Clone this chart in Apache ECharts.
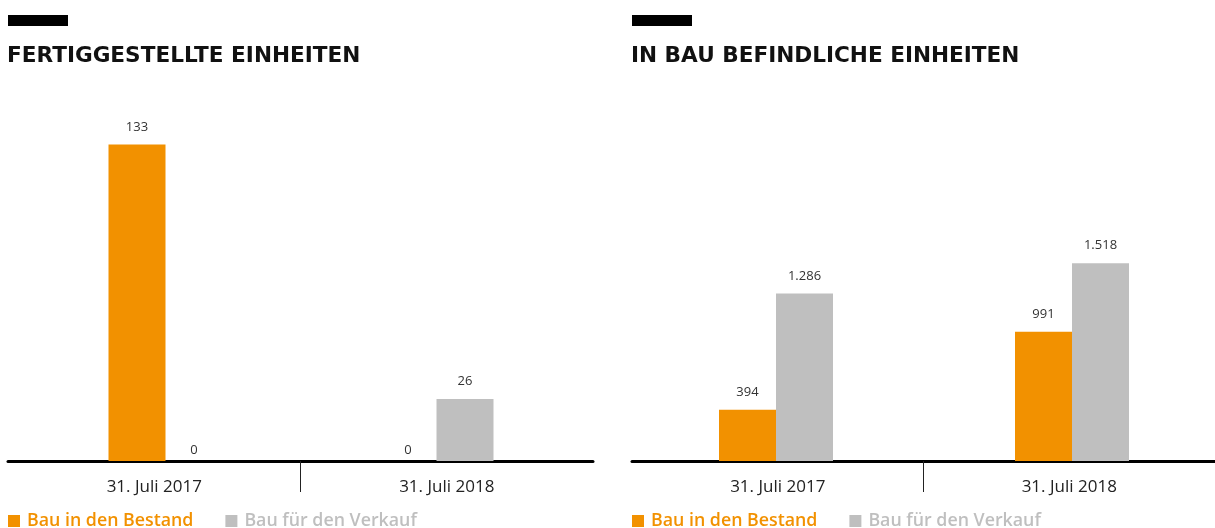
<!DOCTYPE html>
<html>
<head>
<meta charset="utf-8">
<script src="https://cdn.jsdelivr.net/npm/echarts@6/dist/echarts.min.js"></script>
<style>
  html, body { margin: 0; padding: 0; background: #fff; }
  #chart { width: 1215px; height: 528px; }
</style>
</head>
<body>
<div id="chart"></div>
<script>
// chart data
const categories = ['31. Juli 2017', '31. Juli 2018'];
const seriesNames = ['Bau in den Bestand', 'Bau für den Verkauf'];
const titles = ['FERTIGGESTELLTE EINHEITEN', 'IN BAU BEFINDLICHE EINHEITEN'];
const completedBestand = [133, 0];
const completedVerkauf = [0, 26];
const buildingBestand = [394, 991];
const buildingVerkauf = [1286, 1518];

const ORANGE = '#f29100';
const GREY = '#bfbfbf';
const FONT = '"Open Sans", sans-serif';

// German thousands separator
const fmt = (v) => String(v).replace(/\B(?=(\d{3})+(?!\d))/g, '.');

const chart = echarts.init(document.getElementById('chart'));

// layout per panel: label grid (axis + categories) and bar grid (bars)
const panels = [
  {
    labelGrid: { left: 8, width: 585 },
    barGrid: { left: 30, width: 542 },
    top: 104,
    yMax: 150,
    data: [completedBestand, completedVerkauf],
  },
  {
    labelGrid: { left: 632, width: 583 },
    barGrid: { left: 628, width: 592 },
    top: 70,
    yMax: 3000,
    data: [buildingBestand, buildingVerkauf],
  },
];

const GRID_BOTTOM = 67;

const grid = [];
const xAxis = [];
const yAxis = [];
const series = [];
const legend = [];
const title = [];
const graphic = [];

panels.forEach((p, i) => {
  const gLabel = grid.length;
  grid.push({ left: p.labelGrid.left, width: p.labelGrid.width, top: p.top, bottom: GRID_BOTTOM, outerBoundsMode: 'none' });
  const gBar = grid.length;
  grid.push({ left: p.barGrid.left, width: p.barGrid.width, top: p.top, bottom: GRID_BOTTOM, outerBoundsMode: 'none' });

  // categories with the thick baseline
  xAxis.push({
    type: 'category',
    gridIndex: gLabel,
    position: 'bottom',
    data: categories,
    axisLine: { lineStyle: { color: '#000', width: 3 } },
    axisTick: { show: false },
    axisLabel: { color: '#222', fontSize: 17, fontFamily: FONT, margin: 18 },
  });
  // divider tick between the two dates
  xAxis.push({
    type: 'value',
    gridIndex: gLabel,
    position: 'bottom',
    min: 0,
    max: 2,
    interval: 1,
    axisLine: { show: false },
    axisLabel: { show: false },
    splitLine: { show: false },
    axisTick: { show: true, customValues: [1], length: 31, lineStyle: { color: '#222', width: 1 } },
  });
  yAxis.push({ type: 'value', gridIndex: gLabel, show: false, min: 0, max: p.yMax });

  // bars
  const xBar = xAxis.length;
  xAxis.push({ type: 'category', gridIndex: gBar, data: categories, show: false });
  const yBar = yAxis.length;
  yAxis.push({ type: 'value', gridIndex: gBar, show: false, min: 0, max: p.yMax });

  p.data.forEach((vals, s) => {
    series.push({
      type: 'bar',
      name: seriesNames[s],
      xAxisIndex: xBar,
      yAxisIndex: yBar,
      barWidth: 57,
      barGap: '0%',
      itemStyle: { color: s === 0 ? ORANGE : GREY },
      data: vals.map((v) => ({
        value: v,
        label: { distance: v === 0 ? 4 : 11 },
      })),
      label: {
        show: true,
        position: 'top',
        color: '#333',
        fontSize: 13,
        fontFamily: FONT,
        formatter: (d) => fmt(d.value),
      },
      animation: false,
    });
  });

  legend.push({
    left: p.labelGrid.left - 5,
    top: 507,
    icon: 'rect',
    itemWidth: 12,
    itemHeight: 12,
    itemGap: 32,
    selectedMode: false,
    textStyle: { fontSize: 17.8, fontWeight: 600, fontFamily: FONT, padding: [0, 0, 0, 2] },
    data: [
      { name: seriesNames[0], textStyle: { color: ORANGE } },
      { name: seriesNames[1], textStyle: { color: GREY } },
    ],
  });

  title.push({
    text: titles[i],
    left: p.labelGrid.left - 6,
    top: 40,
    textStyle: { color: '#111', fontSize: 21.6, fontWeight: 'bold', fontFamily: '"DejaVu Sans", sans-serif' },
  });

  // small black marker above the title
  graphic.push({
    type: 'rect',
    left: p.labelGrid.left,
    top: 15,
    shape: { width: 60, height: 11 },
    style: { fill: '#000' },
  });
});

chart.setOption({
  animation: false,
  title,
  grid,
  xAxis,
  yAxis,
  series,
  legend,
  graphic,
});
</script>
</body>
</html>
